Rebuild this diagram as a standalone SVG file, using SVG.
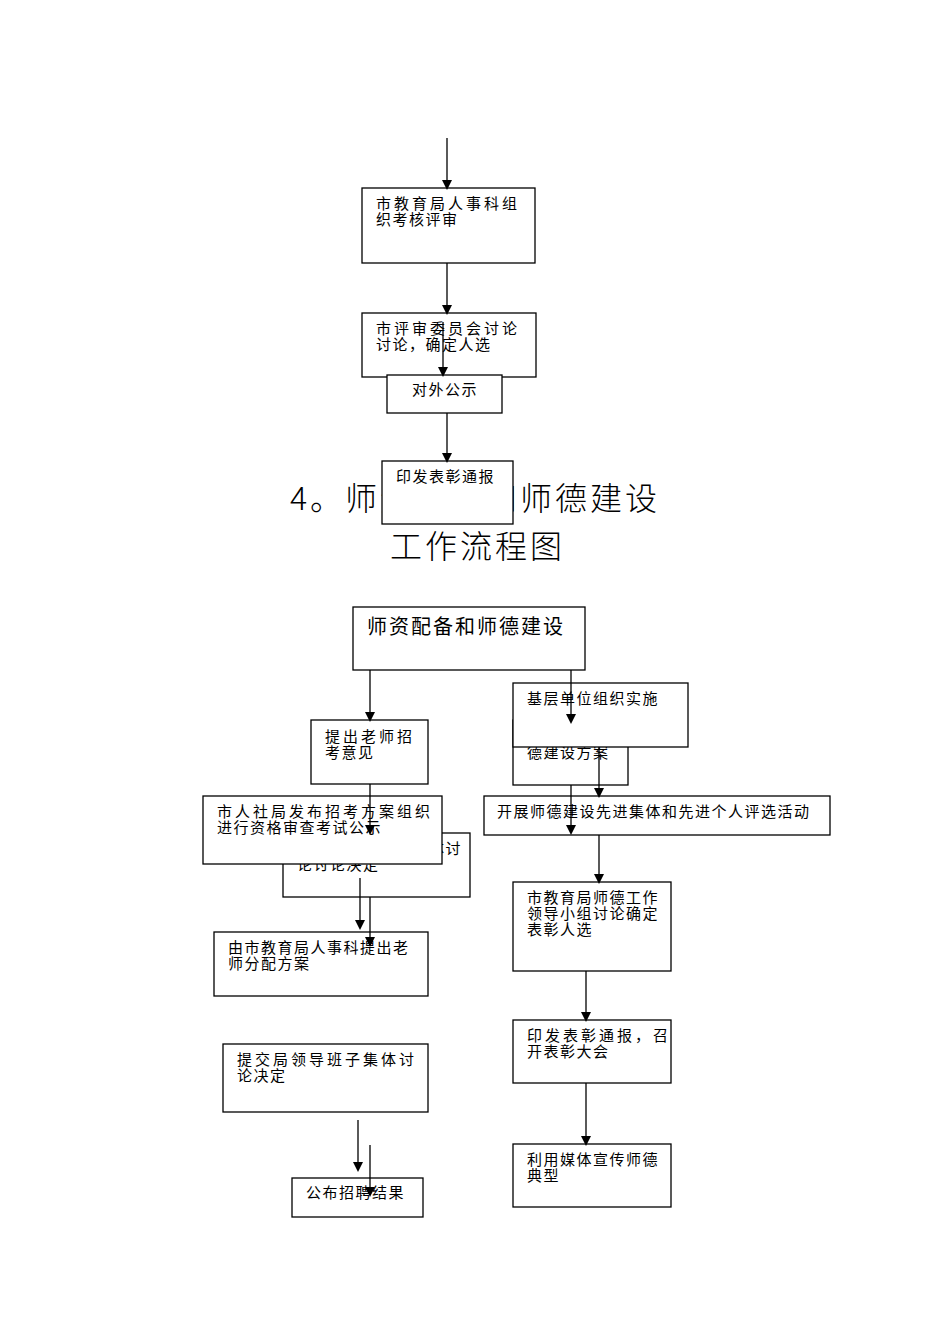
<svg xmlns="http://www.w3.org/2000/svg" width="950" height="1344" viewBox="0 0 950 1344">
<style>
rect{fill:#fff;stroke:#000;stroke-width:1.3}
text{font-family:"Noto Sans CJK SC","Liberation Sans",sans-serif;font-size:15px;fill:#000;letter-spacing:1.5px}
.w{letter-spacing:3px}
.t{font-size:32px;font-weight:300;letter-spacing:3px}
line{stroke:#000;stroke-width:1.3;marker-end:url(#a)}
</style>
<defs><marker id="a" markerWidth="10" markerHeight="10" refX="8" refY="5" orient="auto" markerUnits="userSpaceOnUse"><path d="M0,0L10,5L0,10z" fill="#000"/></marker></defs>
<rect width="950" height="1344" style="stroke:none"/>
<text class="t" x="290" y="510">4。师资配备和师德建设</text>
<text class="t" x="390" y="558">工作流程图</text>
<g id="n1"><rect x="362" y="188" width="173" height="75"/><text class="w" x="376" y="209">市教育局人事科组</text><text x="376" y="225">织考核评审</text></g>
<g id="n2"><rect x="362" y="313" width="174" height="64"/><text class="w" x="376" y="334">市评审委员会讨论</text><text x="376" y="350">讨论，确定人选</text></g>
<g id="n3"><rect x="387" y="375" width="115" height="38"/><text x="412" y="395">对外公示</text></g>
<g id="n4"><rect x="382" y="461" width="131" height="63"/><text x="396" y="482">印发表彰通报</text></g>
<g id="n5"><rect x="353" y="607" width="232" height="63"/><text x="367" y="634" style="font-size:20px;letter-spacing:2px">师资配备和师德建设</text></g>
<g id="n6"><rect x="311" y="720" width="117" height="64"/><text class="w" x="325" y="742">提出老师招</text><text x="325" y="758">考意见</text></g>
<g id="n7"><rect x="513" y="720" width="115" height="65"/><text x="527" y="742">基层单位制定师</text><text x="527" y="758">德建设方案</text></g>
<g id="n8"><rect x="513" y="683" width="175" height="64"/><text x="527" y="704">基层单位组织实施</text></g>
<g id="n9"><rect x="484" y="796" width="346" height="39"/><text x="497" y="817">开展师德建设先进集体和先进个人评选活动</text></g>
<g id="n10"><rect x="283" y="833" width="187" height="64"/><text x="297" y="854">提交局领导班子集体讨</text><text x="297" y="870">论讨论决定</text></g>
<g id="n11"><rect x="203" y="796" width="239" height="68"/><text class="w" x="217" y="817">市人社局发布招考方案组织</text><text x="217" y="833">进行资格审查考试公示</text></g>
<g id="n12"><rect x="214" y="932" width="214" height="64"/><text x="228" y="953">由市教育局人事科提出老</text><text x="228" y="969">师分配方案</text></g>
<g id="n13"><rect x="513" y="882" width="158" height="89"/><text x="527" y="903">市教育局师德工作</text><text x="527" y="919">领导小组讨论确定</text><text x="527" y="935">表彰人选</text></g>
<g id="n14"><rect x="223" y="1044" width="205" height="68"/><text class="w" x="237" y="1065">提交局领导班子集体讨</text><text x="237" y="1081">论决定</text></g>
<g id="n15"><rect x="513" y="1020" width="158" height="63"/><text class="w" x="527" y="1041">印发表彰通报，召</text><text x="527" y="1057">开表彰大会</text></g>
<g id="n16"><rect x="513" y="1144" width="158" height="63"/><text x="527" y="1165">利用媒体宣传师德</text><text x="527" y="1181">典型</text></g>
<g id="n17"><rect x="292" y="1178" width="131" height="39"/><text x="306" y="1198">公布招聘结果</text></g>
<g id="connectors">
<line x1="447" y1="138" x2="447" y2="188"/>
<line x1="447" y1="263" x2="447" y2="313"/>
<line x1="443" y1="322" x2="443" y2="375"/>
<line x1="447" y1="413" x2="447" y2="461"/>
<line x1="370" y1="670" x2="370" y2="720"/>
<line x1="571" y1="670" x2="571" y2="722"/>
<line x1="599" y1="747" x2="599" y2="796"/>
<line x1="571" y1="785" x2="571" y2="833"/>
<line x1="599" y1="835" x2="599" y2="882"/>
<line x1="370" y1="784" x2="370" y2="833"/>
<line x1="360" y1="878" x2="360" y2="928"/>
<line x1="370" y1="897" x2="370" y2="945"/>
<line x1="586" y1="971" x2="586" y2="1020"/>
<line x1="586" y1="1083" x2="586" y2="1144"/>
<line x1="358" y1="1120" x2="358" y2="1170"/>
<line x1="370" y1="1145" x2="370" y2="1195"/>
</g>
</svg>
